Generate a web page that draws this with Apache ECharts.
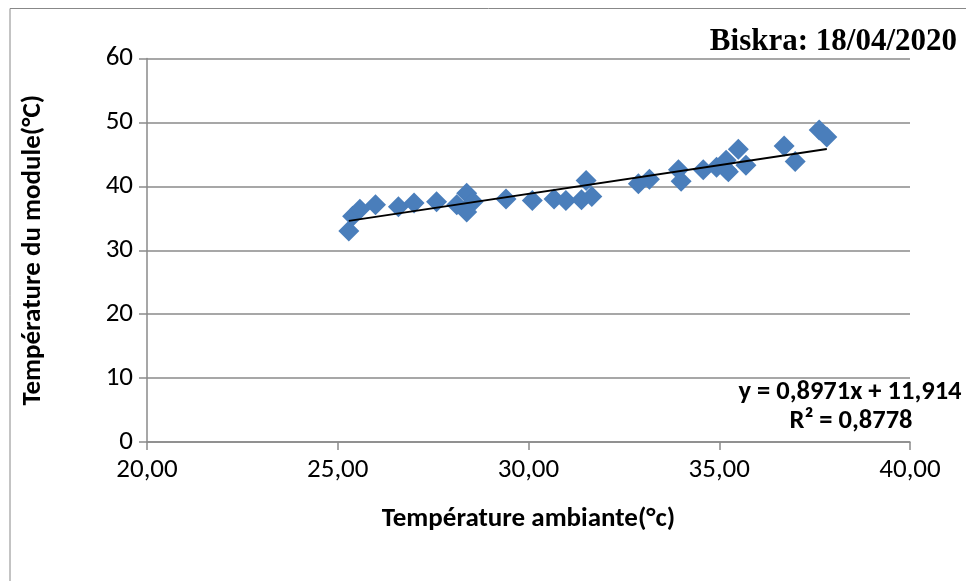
<!DOCTYPE html>
<html>
<head>
<meta charset="utf-8">
<script src="https://cdn.jsdelivr.net/npm/echarts@6/dist/echarts.min.js"></script>
<style>
html,body{margin:0;padding:0;background:#fff;}
#c{width:966px;height:581px;}
</style>
</head>
<body>
<div id="c"></div>
<script>
// Data
const ambient = [25.29, 25.39, 25.58, 25.99, 26.59, 27.00, 27.59, 28.12, 28.38, 28.55, 28.38,
  29.41, 30.10, 30.67, 30.98, 31.39, 31.51, 31.66,
  32.88, 33.17, 33.93, 34.00, 34.58, 34.93, 35.19, 35.18, 35.24, 35.50, 35.70,
  36.70, 36.99, 37.62, 37.82];
const moduleTemp = [33.0, 35.3, 36.4, 37.1, 36.8, 37.4, 37.6, 37.1, 38.9, 37.6, 36.0,
  38.0, 37.8, 38.0, 37.8, 37.9, 40.9, 38.4,
  40.4, 41.1, 42.6, 40.8, 42.6, 43.0, 42.6, 44.1, 42.3, 45.8, 43.3,
  46.3, 43.9, 48.8, 47.7];
const trendX = [25.29, 37.82];
const trendY = [34.60, 45.84];
const xTicks = ['20,00', '25,00', '30,00', '35,00', '40,00'];
const yTicks = ['0', '10', '20', '30', '40', '50', '60'];
const titleText = 'Biskra: 18/04/2020';
const eqText = 'y = 0,8971x + 11,914';
const r2Text = 'R² = 0,8778';
const xName = 'Température ambiante(°c)';
const yName = 'Température du module(°C)';

const pts = ambient.map((x, i) => [x, moduleTemp[i]]);
const trend = trendX.map((x, i) => [x, trendY[i]]);
const fam = 'Carlito, "Liberation Sans Narrow", "Open Sans", sans-serif';
const gridColor = '#8a8a8a';

const chart = echarts.init(document.getElementById('c'), null, {renderer: 'canvas'});
chart.setOption({
  animation: false,
  backgroundColor: '#fff',
  grid: {left: 147, right: 56, top: 58.5, bottom: 139, containLabel: false},
  xAxis: {
    type: 'value', min: 20, max: 40, interval: 5,
    name: xName, nameLocation: 'middle', nameGap: 64,
    nameTextStyle: {fontFamily: fam, fontWeight: 'bold', fontSize: 27, color: '#000'},
    axisLine: {show: true, lineStyle: {color: gridColor, width: 1.5}},
    axisTick: {show: true, length: 8, lineStyle: {color: gridColor, width: 1.5}},
    axisLabel: {margin: 15, fontFamily: fam, fontSize: 27, color: '#000',
      formatter: v => xTicks[Math.round((v - 20) / 5)]},
    splitLine: {show: false}
  },
  yAxis: {
    type: 'value', min: 0, max: 60, interval: 10,
    name: yName, nameLocation: 'middle', nameGap: 100, nameRotate: 90,
    nameTextStyle: {fontFamily: fam, fontWeight: 'bold', fontSize: 27, color: '#000'},
    axisLine: {show: true, lineStyle: {color: gridColor, width: 1.5}},
    axisTick: {show: true, length: 8, lineStyle: {color: gridColor, width: 1.5}},
    axisLabel: {margin: 14, fontFamily: fam, fontSize: 27, color: '#000',
      formatter: v => yTicks[Math.round(v / 10)]},
    splitLine: {show: true, lineStyle: {color: gridColor, width: 1.5}}
  },
  series: [
    {
      type: 'scatter', data: pts, symbol: 'diamond', symbolSize: [21, 21],
      itemStyle: {color: '#4a7ebb', opacity: 1}, z: 2
    },
    {
      type: 'line', data: trend, symbol: 'none', showSymbol: false,
      lineStyle: {color: '#000', width: 1.8}, z: 3
    }
  ],
  graphic: [
    {type: 'rect', shape: {x: 10, y: 8.5, width: 1000, height: 1000},
      style: {fill: 'none', stroke: '#888', lineWidth: 1}, silent: true},
    {type: 'text', x: 957, y: 42, style: {text: titleText, fontFamily: '"Liberation Serif", "Times New Roman", serif',
      fontWeight: 'bold', fontSize: 31, fill: '#000', align: 'right', verticalAlign: 'middle'}},
    {type: 'text', x: 850, y: 392, style: {text: eqText, fontFamily: fam,
      fontWeight: 'bold', fontSize: 26.5, fill: '#000', align: 'center', verticalAlign: 'middle'}},
    {type: 'text', x: 851, y: 421, style: {text: r2Text, fontFamily: fam,
      fontWeight: 'bold', fontSize: 26.5, fill: '#000', align: 'center', verticalAlign: 'middle'}}
  ]
});
</script>
</body>
</html>
